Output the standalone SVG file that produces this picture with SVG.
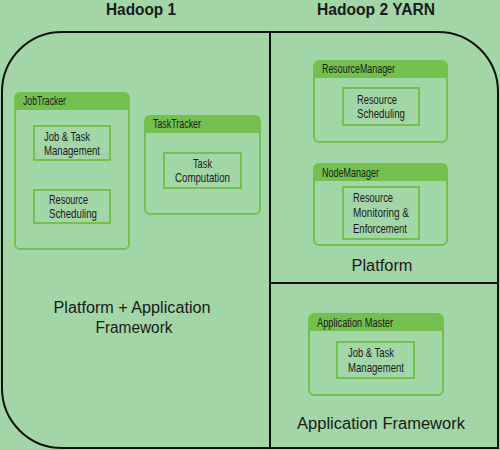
<svg xmlns="http://www.w3.org/2000/svg" width="500" height="450" viewBox="0 0 500 450">
<style>
.box{fill:#a3d6a6;stroke:#74c04e;stroke-width:2}
.hdr{fill:#74c04e}
.inner{fill:none;stroke:#74c04e;stroke-width:2}
.lbl{font-family:"Liberation Sans",Arial,sans-serif;font-size:13px;fill:#1a1a1a}
.hl{font-family:"Liberation Sans",Arial,sans-serif;font-size:12px;fill:#1a1a1a}
.big{font-family:"Liberation Sans",Arial,sans-serif;font-size:16px;fill:#1a1a1a}
.title{font-family:"Liberation Sans",Arial,sans-serif;font-size:16px;font-weight:bold;fill:#1a1a1a}
</style>
<rect x="0" y="0" width="500" height="450" fill="#a3d6a6"/>
<g id="frame" fill="none" stroke="#111" stroke-width="2">
<path d="M62,32 H438 A60,60 0 0 1 498,92 V448 H62 A60,60 0 0 1 2,388 V92 A60,60 0 0 1 62,32 Z"/>
</g>
<g id="connectors" stroke="#111" stroke-width="2">
<line x1="270" y1="32" x2="270" y2="448"/>
<line x1="270" y1="283" x2="498" y2="283"/>
</g>
<g id="titles">
<text class="title" x="141" y="15" text-anchor="middle" textLength="70" lengthAdjust="spacingAndGlyphs">Hadoop 1</text>
<text class="title" x="376" y="15" text-anchor="middle" textLength="118" lengthAdjust="spacingAndGlyphs">Hadoop 2 YARN</text>
</g>
<g id="jobtracker">
<rect class="box" x="15" y="93" width="114" height="156" rx="5"/>
<path class="hdr" d="M15,110 V98 A5,5 0 0 1 20,93 H124 A5,5 0 0 1 129,98 V110 Z"/>
<text class="hl" x="23" y="105" textLength="43" lengthAdjust="spacingAndGlyphs">JobTracker</text>
</g>
<g id="jt-jobtask">
<rect class="inner" x="34" y="126" width="76" height="34"/>
<text class="lbl" x="44" y="141" textLength="46" lengthAdjust="spacingAndGlyphs">Job &amp; Task</text>
<text class="lbl" x="44" y="155" textLength="56" lengthAdjust="spacingAndGlyphs">Management</text>
</g>
<g id="jt-sched">
<rect class="inner" x="34" y="190" width="76" height="33"/>
<text class="lbl" x="49" y="204" textLength="39" lengthAdjust="spacingAndGlyphs">Resource</text>
<text class="lbl" x="49" y="218" textLength="48" lengthAdjust="spacingAndGlyphs">Scheduling</text>
</g>
<g id="tasktracker">
<rect class="box" x="145" y="116" width="115" height="98" rx="5"/>
<path class="hdr" d="M145,133 V121 A5,5 0 0 1 150,116 H255 A5,5 0 0 1 260,121 V133 Z"/>
<text class="hl" x="153" y="128" textLength="48" lengthAdjust="spacingAndGlyphs">TaskTracker</text>
</g>
<g id="tt-comp">
<rect class="inner" x="164" y="153" width="77" height="35"/>
<text class="lbl" x="193" y="168" textLength="19" lengthAdjust="spacingAndGlyphs">Task</text>
<text class="lbl" x="175" y="182" textLength="55" lengthAdjust="spacingAndGlyphs">Computation</text>
</g>
<g id="resourcemanager">
<rect class="box" x="314" y="61" width="133" height="81" rx="5"/>
<path class="hdr" d="M314,78 V66 A5,5 0 0 1 319,61 H442 A5,5 0 0 1 447,66 V78 Z"/>
<text class="hl" x="322" y="73" textLength="73" lengthAdjust="spacingAndGlyphs">ResourceManager</text>
</g>
<g id="rm-sched">
<rect class="inner" x="343" y="88" width="76" height="37"/>
<text class="lbl" x="357" y="104" textLength="40" lengthAdjust="spacingAndGlyphs">Resource</text>
<text class="lbl" x="357" y="118" textLength="48" lengthAdjust="spacingAndGlyphs">Scheduling</text>
</g>
<g id="nodemanager">
<rect class="box" x="314" y="164" width="133" height="81" rx="5"/>
<path class="hdr" d="M314,181 V169 A5,5 0 0 1 319,164 H442 A5,5 0 0 1 447,169 V181 Z"/>
<text class="hl" x="322" y="177" textLength="57" lengthAdjust="spacingAndGlyphs">NodeManager</text>
</g>
<g id="nm-monitor">
<rect class="inner" x="343" y="187" width="76" height="52"/>
<text class="lbl" x="353" y="202" textLength="40" lengthAdjust="spacingAndGlyphs">Resource</text>
<text class="lbl" x="353" y="217" textLength="56" lengthAdjust="spacingAndGlyphs">Monitoring &amp;</text>
<text class="lbl" x="353" y="233" textLength="54" lengthAdjust="spacingAndGlyphs">Enforcement</text>
</g>
<g id="appmaster">
<rect class="box" x="309" y="314" width="134" height="81" rx="5"/>
<path class="hdr" d="M309,331 V319 A5,5 0 0 1 314,314 H438 A5,5 0 0 1 443,319 V331 Z"/>
<text class="hl" x="317" y="327" textLength="76" lengthAdjust="spacingAndGlyphs">Application Master</text>
</g>
<g id="am-jobtask">
<rect class="inner" x="337" y="342" width="77" height="36"/>
<text class="lbl" x="348" y="357" textLength="46" lengthAdjust="spacingAndGlyphs">Job &amp; Task</text>
<text class="lbl" x="348" y="372" textLength="56" lengthAdjust="spacingAndGlyphs">Management</text>
</g>
<g id="labels">
<text class="big" x="382" y="271" text-anchor="middle" textLength="61" lengthAdjust="spacingAndGlyphs">Platform</text>
<text class="big" x="132" y="313" text-anchor="middle" textLength="157" lengthAdjust="spacingAndGlyphs">Platform + Application</text>
<text class="big" x="134" y="333" text-anchor="middle" textLength="77" lengthAdjust="spacingAndGlyphs">Framework</text>
<text class="big" x="381" y="429" text-anchor="middle" textLength="168" lengthAdjust="spacingAndGlyphs">Application Framework</text>
</g>
</svg>
